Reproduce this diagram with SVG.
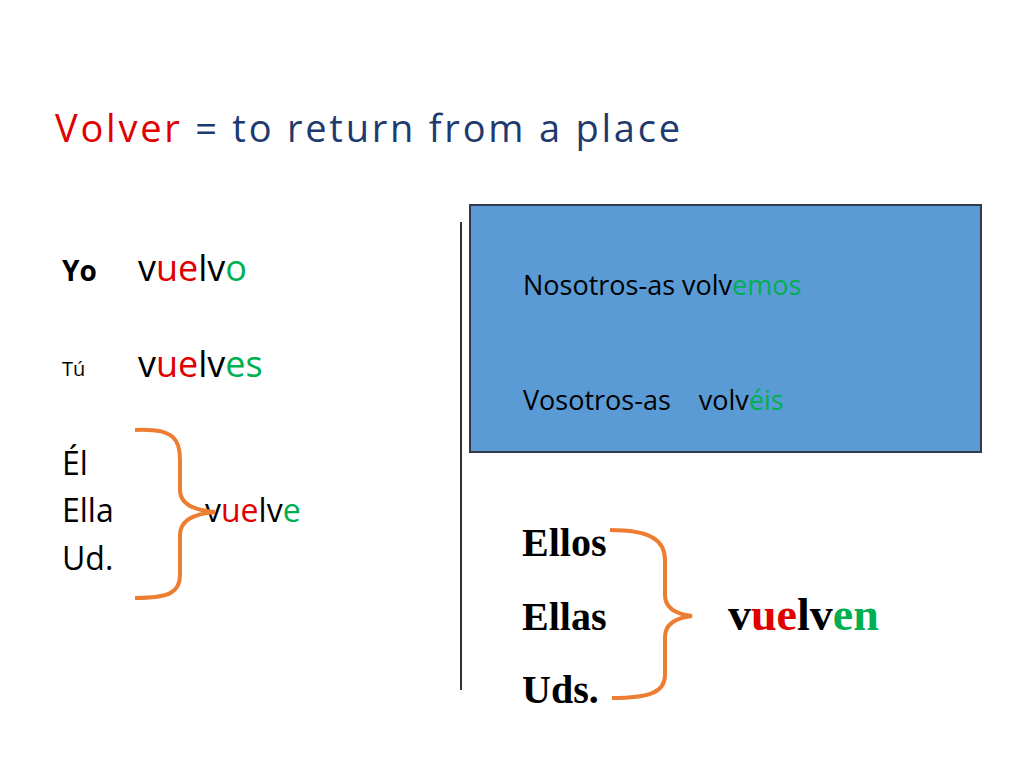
<svg xmlns="http://www.w3.org/2000/svg" width="1024" height="768" viewBox="0 0 1024 768">
<style>
.s{font-family:"Open Sans","Liberation Sans",sans-serif;fill:#000}
.r{fill:#e00000}.g{fill:#00b050}
.tm{font-family:"Liberation Serif",serif;font-weight:bold;fill:#000}
.br{fill:none;stroke:#ed7d31;stroke-width:4}
</style>
<rect width="1024" height="768" fill="#fff"/>
<g id="title"><text x="55" y="142" font-family="Open Sans,Liberation Sans,sans-serif" font-size="38" fill="#1f3a6e" textLength="625"><tspan fill="#e00000">Volver</tspan> = to return from a place</text></g>
<g id="singular">
<text class="s" x="62" y="281" font-size="28" font-weight="bold">Yo</text>
<text class="s" x="138" y="281" font-size="36">v<tspan class="r">ue</tspan>lv<tspan class="g">o</tspan></text>
<text class="s" x="62" y="376" font-size="20">Tú</text>
<text class="s" x="138" y="377" font-size="36">v<tspan class="r">ue</tspan>lv<tspan class="g">es</tspan></text>
<text class="s" x="62" y="475" font-size="32">Él</text>
<text class="s" x="62" y="522" font-size="32">Ella</text>
<text class="s" x="62" y="570" font-size="32">Ud.</text>
<text class="s" x="205" y="522" font-size="32">v<tspan class="r">ue</tspan>lv<tspan class="g">e</tspan></text>
</g>
<g id="connectors">
<path class="br" d="M135,430 C175,428 180,440 180,460 L180,490 C180,502 190,510 215,512 C190,514 180,522 180,535 L180,575 C180,592 170,598 135,598"/>
<path class="br" d="M610,530 C650,530 665,540 665,560 L665,595 C665,607 675,614 692,616 C675,618 665,625 665,637 L665,675 C665,692 650,698 612,698"/>
<line x1="461" y1="222" x2="461" y2="690" stroke="#333" stroke-width="2"/>
</g>
<g id="plural-box">
<rect x="470" y="205" width="511" height="247" fill="#5b9bd5" stroke="#2f3b4a" stroke-width="2"/>
<text class="s" x="523" y="295" font-size="27">Nosotros-as  volv<tspan class="g">emos</tspan></text>
<text class="s" x="523" y="410" font-size="27" xml:space="preserve">Vosotros-as    volv<tspan class="g">éis</tspan></text>
</g>
<g id="ellos">
<text class="tm" x="522" y="556" font-size="40">Ellos</text>
<text class="tm" x="522" y="630" font-size="40">Ellas</text>
<text class="tm" x="522" y="703" font-size="40">Uds.</text>
<text class="tm" x="728" y="630" font-size="46">v<tspan class="r">ue</tspan>lv<tspan class="g">en</tspan></text>
</g>
</svg>
